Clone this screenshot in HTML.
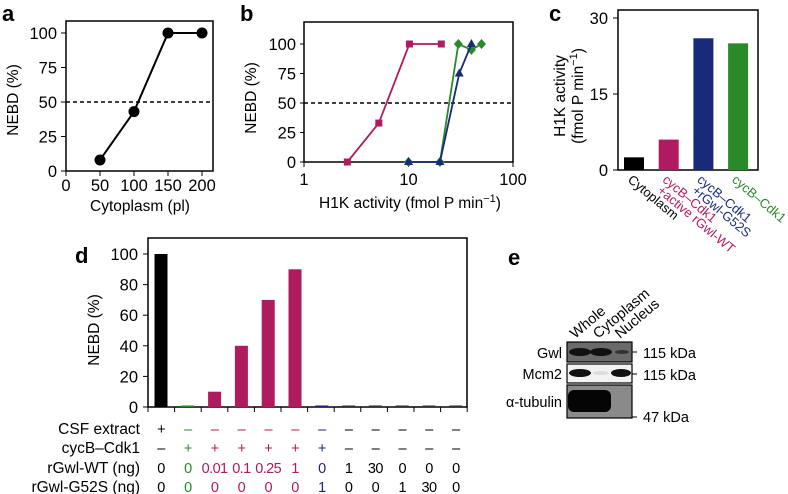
<!DOCTYPE html>
<html><head><meta charset="utf-8"><style>
html,body{margin:0;padding:0;background:#fff}
svg{display:block;font-family:"Liberation Sans",Arial,sans-serif}
</style></head><body>
<svg id="s" width="788" height="494" viewBox="0 0 788 494" xmlns="http://www.w3.org/2000/svg">
<g font-weight="bold" font-size="22">
<text x="2" y="21">a</text>
<text x="240" y="21">b</text>
<text x="549" y="21">c</text>
<text x="75" y="263">d</text>
<text x="508" y="265">e</text>
</g>
<g id="pa"></g>
<g id="pb"></g>
<g id="pc"></g>
<g id="pd"></g>
<g id="pe">
<g font-size="14.5">
<text transform="translate(575,339) rotate(-40)">Whole</text>
<text transform="translate(598,339) rotate(-40)">Cytoplasm</text>
<text transform="translate(620,339) rotate(-40)">Nucleus</text>
<text x="562" y="358" text-anchor="end">Gwl</text>
<text x="562" y="379" text-anchor="end">Mcm2</text>
<text x="562" y="407" text-anchor="end">α-tubulin</text>
<text x="643" y="358">115 kDa</text>
<text x="643" y="380">115 kDa</text>
<text x="643" y="422">47 kDa</text>
</g>
<rect x="567" y="342" width="65" height="20" fill="#6a6a6a" stroke="#000" stroke-width="1.2"/>
<ellipse cx="580" cy="352" rx="11" ry="4" fill="#111"/><ellipse cx="601" cy="352" rx="11" ry="4" fill="#111"/><ellipse cx="622" cy="352" rx="7" ry="2" fill="#333"/>
<rect x="567" y="364" width="65" height="19" fill="#f2f2f2" stroke="#000" stroke-width="1.2"/>
<ellipse cx="580" cy="373" rx="11" ry="4" fill="#111"/><ellipse cx="601" cy="373" rx="8" ry="2" fill="#ddd"/><ellipse cx="621" cy="373" rx="10" ry="4" fill="#111"/>
<rect x="567" y="385" width="65" height="33" fill="#8a8a8a" stroke="#000" stroke-width="1.2"/>
<rect x="568" y="390" width="43" height="22" rx="6" fill="#050505"/>
<g stroke="#000"><line x1="632" y1="352" x2="637" y2="352"/><line x1="632" y1="374" x2="637" y2="374"/><line x1="632" y1="417" x2="637" y2="417"/></g>
</g>
</svg>
<script>
// ---- data ----
const aX=[50,100,150,200];
const aY=[8,43,100,100];
const aTicksX=[0,50,100,150,200];
const aTicksY=[0,25,50,75,100];
const bWtX=[2.6,5.2,10.2,20.6];
const bWtY=[0,33,100,100];
const bG52X=[10,20,30.6,40];
const bG52Y=[0,0,75,100];
const bCdkX=[10,20,30,40,50];
const bCdkY=[0,0,100,95,100];
const bTicksX=[1,10,100];
const bTicksY=[0,25,50,75,100];
const cCats=["Cytoplasm","cycB–Cdk1|+active rGwl-WT","cycB–Cdk1|+rGwl-G52S","cycB–Cdk1"];
const cVals=[2.5,6,26,25];
const cTicks=[0,15,30];
const dVals=[100,1,10,40,70,90,1,1,1,1,1,1];
const dTicks=[0,20,40,60,80,100];
const dCSF=["+","–","–","–","–","–","–","–","–","–","–","–"];
const dCdk=["–","+","+","+","+","+","+","–","–","–","–","–"];
const dWT=["0","0","0.01","0.1","0.25","1","0","1","30","0","0","0"];
const dG52=["0","0","0","0","0","0","1","0","0","1","30","0"];
const NS="http://www.w3.org/2000/svg";
const K="#000",M="#b01a5e",B="#1a2a7a",G="#2a8a2a",DG="#333";
const dCols=[K,G,M,M,M,M,B,DG,DG,DG,DG,DG];
const cCols=[K,M,B,G];
const TF=16.5, AF=15.5;
function el(p,t,a,txt){const e=document.createElementNS(NS,t);for(const k in a)e.setAttribute(k,a[k]);if(txt!==undefined)e.textContent=txt;p.appendChild(e);return e;}
// ---- panel a ----
(function(){const g=document.getElementById('pa');
const x=v=>66+v*(202-66)/200, y=v=>171-v*(171-33)/100;
el(g,'rect',{x:66,y:21,width:147,height:150,fill:'none',stroke:K,'stroke-width':1.5});
el(g,'line',{x1:66,x2:213,y1:y(50),y2:y(50),stroke:K,'stroke-width':1.5,'stroke-dasharray':'4 3'});
aTicksY.forEach(v=>{const t=el(g,'text',{x:57,y:y(v)+6,'text-anchor':'end','font-size':TF},v);el(g,'line',{x1:61,x2:66,y1:y(v),y2:y(v),stroke:K});});
aTicksX.forEach(v=>{const t=el(g,'text',{x:x(v),y:191,'text-anchor':'middle','font-size':TF},v);el(g,'line',{x1:x(v),x2:x(v),y1:171,y2:176,stroke:K});});
el(g,'polyline',{points:aX.map((v,i)=>x(v)+','+y(aY[i])).join(' '),fill:'none',stroke:K,'stroke-width':2});
aX.forEach((v,i)=>{const c=el(g,'circle',{cx:x(v),cy:y(aY[i]),r:5.5,fill:K});});
const xt=el(g,'text',{x:140,y:211,'text-anchor':'middle','font-size':AF},'Cytoplasm (pl)');
const yt=el(g,'text',{transform:'translate(18,100) rotate(-90)','text-anchor':'middle','font-size':AF},'NEBD (%)');
})();
// ---- panel b ----
(function(){const g=document.getElementById('pb');
const x=v=>304+Math.log10(v)*104.5, y=v=>162-v*(162-44)/100;
el(g,'rect',{x:304,y:22,width:209,height:140,fill:'none',stroke:K,'stroke-width':1.5});
el(g,'line',{x1:304,x2:513,y1:y(50),y2:y(50),stroke:K,'stroke-width':1.5,'stroke-dasharray':'4 3'});
bTicksY.forEach(v=>{const t=el(g,'text',{x:296,y:y(v)+6,'text-anchor':'end','font-size':TF},v);el(g,'line',{x1:300,x2:304,y1:y(v),y2:y(v),stroke:K});});
bTicksX.forEach(v=>{const t=el(g,'text',{x:x(v),y:185,'text-anchor':'middle','font-size':TF},v);el(g,'line',{x1:x(v),x2:x(v),y1:162,y2:167,stroke:K});});
function ser(X,Y,col,shape,nm){el(g,'polyline',{points:X.map((v,i)=>x(v)+','+y(Y[i])).join(' '),fill:'none',stroke:col,'stroke-width':1.8});
X.forEach((v,i)=>{const cx=x(v),cy=y(Y[i]);let e;
if(shape=='s')e=el(g,'rect',{x:cx-3.5,y:cy-3.5,width:7,height:7,fill:col});
else if(shape=='t')e=el(g,'polygon',{points:`${cx},${cy-5} ${cx-4.5},${cy+3} ${cx+4.5},${cy+3}`,fill:col});
else e=el(g,'polygon',{points:`${cx},${cy-5} ${cx+4.5},${cy} ${cx},${cy+5} ${cx-4.5},${cy}`,fill:col});
});}
ser(bCdkX,bCdkY,G,'d','b-point-cdk1');ser(bG52X,bG52Y,B,'t','b-point-g52s');ser(bWtX,bWtY,M,'s','b-point-wt');
const xt=el(g,'text',{x:410,y:208,'text-anchor':'middle','font-size':AF});xt.innerHTML='H1K activity (fmol P min<tspan dy="-6" font-size="11">−1</tspan><tspan dy="6">)</tspan>';
const yt=el(g,'text',{transform:'translate(256,98) rotate(-90)','text-anchor':'middle','font-size':AF},'NEBD (%)');
})();
// ---- panel c ----
(function(){const g=document.getElementById('pc');
const y=v=>170-v*(170-18)/30, bx=i=>624+i*34.7;
el(g,'rect',{x:618,y:10,width:140,height:160,fill:'none',stroke:K,'stroke-width':1.5});
cTicks.forEach(v=>{const t=el(g,'text',{x:608,y:y(v)+6,'text-anchor':'end','font-size':TF},v);el(g,'line',{x1:613,x2:618,y1:y(v),y2:y(v),stroke:K});});
cVals.forEach((v,i)=>{const r=el(g,'rect',{x:bx(i),y:y(v),width:20,height:170-y(v),fill:cCols[i]});
const lines=cCats[i].split('|');const t=el(g,'text',{transform:`translate(${bx(i)+3},${181}) rotate(40)`,'font-size':13,fill:cCols[i]});
lines.forEach((l,j)=>el(t,'tspan',{x:j*3,dy:j?11.5:0},l));});
const yt=el(g,'text',{transform:'translate(565,96) rotate(-90)','text-anchor':'middle','font-size':AF},'H1K activity');
const yt2=el(g,'text',{transform:'translate(583,96) rotate(-90)','text-anchor':'middle','font-size':AF});yt2.innerHTML='(fmol P min<tspan dy="-6" font-size="11">−1</tspan><tspan dy="6">)</tspan>';
})();
// ---- panel d ----
(function(){const g=document.getElementById('pd');
const y=v=>407-v*(407-254)/100, cx=i=>161+i*26.8;
el(g,'rect',{x:148,y:238,width:319,height:169,fill:'none',stroke:K,'stroke-width':1.5});
dTicks.forEach(v=>{const t=el(g,'text',{x:138,y:y(v)+6,'text-anchor':'end','font-size':TF},v);el(g,'line',{x1:143,x2:148,y1:y(v),y2:y(v),stroke:K});});
for(let i=0;i<=12;i++)el(g,'line',{x1:148+i*26.6,x2:148+i*26.6,y1:407,y2:412,stroke:K});
dVals.forEach((v,i)=>{const r=el(g,'rect',{x:cx(i)-6.5,y:y(v),width:13,height:407-y(v),fill:dCols[i]});});
const rows=[["CSF extract",dCSF,428],["cycB–Cdk1",dCdk,447],["rGwl-WT (ng)",dWT,467],["rGwl-G52S (ng)",dG52,486]];
rows.forEach(r=>{const t=el(g,'text',{x:140,y:r[2]+6,'text-anchor':'end','font-size':AF},r[0]);
r[1].forEach((s,i)=>{const c=el(g,'text',{x:cx(i),y:r[2]+6,'text-anchor':'middle','font-size':14.5,'letter-spacing':'-0.6',fill:dCols[i]==DG?K:dCols[i]},s);});});
const yt=el(g,'text',{transform:'translate(99,330) rotate(-90)','text-anchor':'middle','font-size':AF},'NEBD (%)');
})();
</script>
</body></html>
